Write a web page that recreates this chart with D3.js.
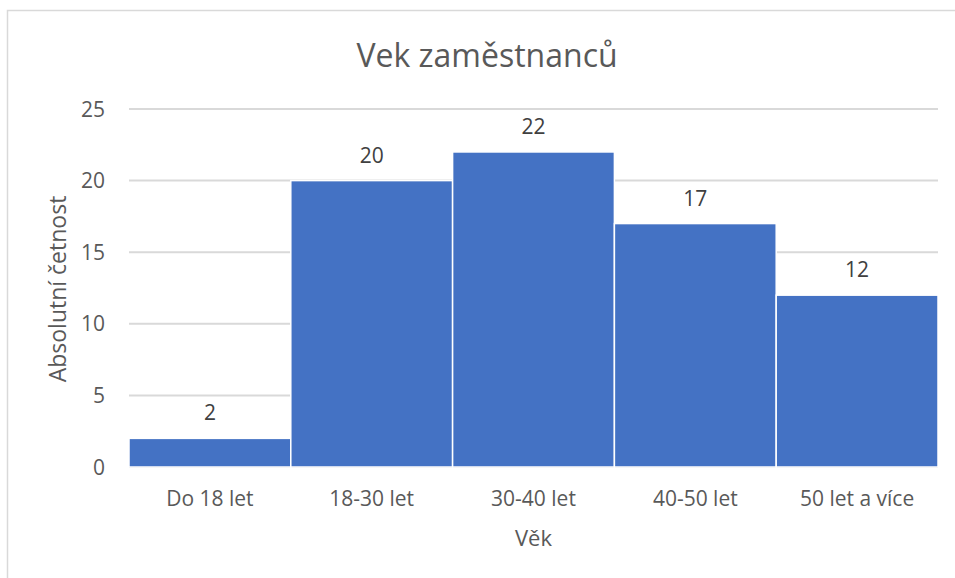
<!DOCTYPE html>
<html>
<head>
    <meta charset="utf-8">
    <style>
        body { margin: 0; background: #fff; }
        svg { display: block; font-family: "Open Sans", sans-serif; }
        .grid line { stroke: #d9d9d9; stroke-width: 2px; }
        .tick-label { fill: #595959; font-size: 21px; }
    </style>
    <script src="https://d3js.org/d3.v7.min.js"></script>
</head>
<body>
<script type="application/javascript">
  // data
  var categories = ["Do 18 let", "18-30 let", "30-40 let", "40-50 let", "50 let a více"];
  var counts = [2, 20, 22, 17, 12];
  var yTicks = [0, 5, 10, 15, 20, 25];

  var width = 955, height = 578;
  var margin = {top: 109, right: 17, bottom: 111, left: 129};
  var w = width - margin.left - margin.right;
  var h = height - margin.top - margin.bottom;

  var svg = d3.select("body")
              .append("svg")
              .attr("width", width)
              .attr("height", height);

  // chart area border
  svg.append("rect")
     .attr("x", 7.5).attr("y", 10.5)
     .attr("width", width).attr("height", height)
     .attr("fill", "none")
     .attr("stroke", "#d9d9d9")
     .attr("stroke-width", 1.5);

  var g = svg.append("g")
             .attr("transform", "translate(" + margin.left + "," + margin.top + ")");

  var x = d3.scaleBand().domain(categories).range([0, w]).padding(0);
  var y = d3.scaleLinear().domain([0, 25]).range([h, 0]);

  // gridlines
  g.append("g")
   .attr("class", "grid")
   .selectAll("line")
   .data(yTicks)
   .enter()
   .append("line")
   .attr("x1", 0).attr("x2", w)
   .attr("y1", function (d) { return y(d); })
   .attr("y2", function (d) { return y(d); });

  // y tick labels
  g.append("g")
   .selectAll("text")
   .data(yTicks)
   .enter()
   .append("text")
   .attr("class", "tick-label")
   .attr("x", -24)
   .attr("y", function (d) { return y(d); })
   .attr("dy", "0.36em")
   .attr("text-anchor", "end")
   .text(function (d) { return d; });

  // bars
  g.append("g")
   .selectAll("rect")
   .data(counts)
   .enter()
   .append("rect")
   .attr("x", function (d, i) { return x(categories[i]); })
   .attr("y", function (d) { return y(d); })
   .attr("width", x.bandwidth())
   .attr("height", function (d) { return h - y(d); })
   .attr("fill", "#4472c4")
   .attr("stroke", "#ffffff")
   .attr("stroke-width", 1.5);

  // data labels
  g.append("g")
   .selectAll("text")
   .data(counts)
   .enter()
   .append("text")
   .attr("x", function (d, i) { return x(categories[i]) + x.bandwidth() / 2; })
   .attr("y", function (d) { return y(d) - 18; })
   .attr("text-anchor", "middle")
   .attr("fill", "#404040")
   .attr("font-size", "21px")
   .text(function (d) { return d; });

  // category labels
  g.append("g")
   .selectAll("text")
   .data(categories)
   .enter()
   .append("text")
   .attr("class", "tick-label")
   .attr("x", function (d) { return x(d) + x.bandwidth() / 2; })
   .attr("y", h + 39)
   .attr("text-anchor", "middle")
   .text(function (d) { return d; });

  // title
  svg.append("text")
     .attr("x", 487)
     .attr("y", 67)
     .attr("text-anchor", "middle")
     .attr("fill", "#595959")
     .attr("font-size", "32px")
     .text("Vek zaměstnanců");

  // axis titles
  svg.append("text")
     .attr("x", margin.left + w / 2)
     .attr("y", 546)
     .attr("text-anchor", "middle")
     .attr("fill", "#595959")
     .attr("font-size", "22px")
     .text("Věk");

  svg.append("text")
     .attr("transform", "translate(66," + (margin.top + h / 2 + 1) + ") rotate(-90)")
     .attr("text-anchor", "middle")
     .attr("fill", "#595959")
     .attr("font-size", "23px")
     .text("Absolutní četnost");
</script>
</body>
</html>
